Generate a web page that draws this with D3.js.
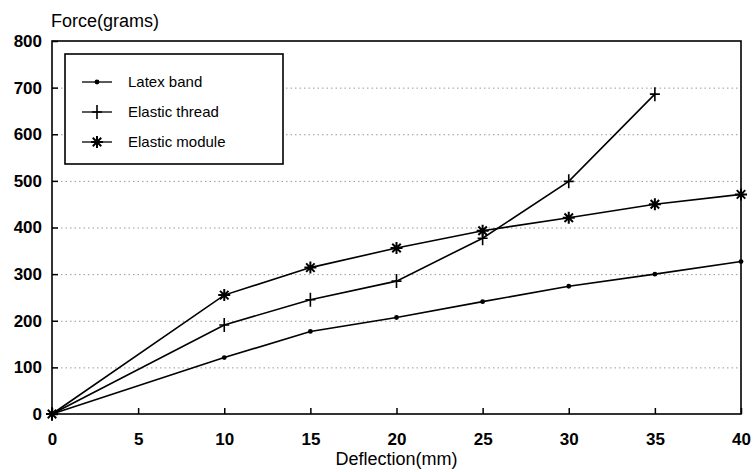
<!DOCTYPE html>
<html><head><meta charset="utf-8">
<script src="https://cdn.jsdelivr.net/npm/d3@7"></script>
<style>body{margin:0;background:#fff;} svg{display:block;font-family:"Liberation Sans",Arial,Helvetica,sans-serif;}</style>
</head><body>
<svg id="chart" width="756" height="472"></svg>
<script>
const deflection = [0, 10, 15, 20, 25, 30, 35, 40];
const latexBand = [0, 121, 177, 207, 241, 274, 300, 327];
const elasticThread = [0, 191, 245, 285, 377, 499, 686];
const elasticModule = [0, 255, 314, 356, 393, 421, 450, 471];
const xTicks = [0, 5, 10, 15, 20, 25, 30, 35, 40];
const yTicks = [0, 100, 200, 300, 400, 500, 600, 700, 800];
const seriesNames = ["Latex band", "Elastic thread", "Elastic module"];
const markerTypes = ["dot", "plus", "star"];

const svg = d3.select("#chart");
const x = d3.scaleLinear().domain([0, 40]).range([52, 741]);
const y = d3.scaleLinear().domain([0, 800]).range([414, 41]);

// grid (dotted)
const grid = svg.append("g").attr("transform", `translate(${x(0)},0)`)
  .call(d3.axisLeft(y).tickValues(yTicks.filter(v => v > 0 && v < 800)).tickSize(-(x(40) - x(0))).tickFormat(""));
grid.select(".domain").remove();
grid.selectAll("line").attr("stroke", "#999").attr("stroke-width", 1).attr("stroke-dasharray", "1.5,3");

// frame
svg.append("rect").attr("x", x(0)).attr("y", y(800)).attr("width", x(40) - x(0)).attr("height", y(0) - y(800))
  .attr("fill", "none").attr("stroke", "#000").attr("stroke-width", 1.6);

// axes
const xa = svg.append("g").attr("transform", `translate(0,${y(0)})`)
  .call(d3.axisBottom(x).tickValues(xTicks).tickSize(-6).tickSizeOuter(0).tickPadding(19));
xa.select(".domain").remove();
xa.selectAll("line").attr("stroke", "#000").attr("stroke-width", 1.5);
xa.selectAll("text").attr("font-size", 17).attr("font-weight", "bold").attr("fill", "#000").attr("font-family", "Liberation Sans, Arial, sans-serif");

const ya = svg.append("g").attr("transform", `translate(${x(0)},0)`)
  .call(d3.axisLeft(y).tickValues(yTicks).tickSize(-6).tickSizeOuter(0).tickPadding(10));
ya.select(".domain").remove();
ya.selectAll("line").attr("stroke", "#000").attr("stroke-width", 1.5);
ya.selectAll("text").attr("font-size", 17).attr("font-weight", "bold").attr("fill", "#000").attr("font-family", "Liberation Sans, Arial, sans-serif");

// titles
svg.append("text").attr("x", 51).attr("y", 27).attr("font-size", 18).attr("fill", "#000").text("Force(grams)");
svg.append("text").attr("x", (x(0) + x(40)) / 2).attr("y", 465).attr("text-anchor", "middle").attr("font-size", 18).attr("fill", "#000").text("Deflection(mm)");

function drawMarker(g, type, cx, cy) {
  if (type === "dot") {
    g.append("circle").attr("cx", cx).attr("cy", cy).attr("r", 2.4).attr("fill", "#000");
  } else if (type === "plus") {
    g.append("path").attr("d", `M${cx - 5},${cy}H${cx + 5}M${cx},${cy - 7}V${cy + 7}`).attr("stroke", "#000").attr("stroke-width", 1.6).attr("fill", "none");
  } else {
    const r = 6;
    let d = "";
    for (let k = 0; k < 4; k++) {
      const a = k * Math.PI / 4;
      d += `M${cx - r * Math.cos(a)},${cy - r * Math.sin(a)}L${cx + r * Math.cos(a)},${cy + r * Math.sin(a)}`;
    }
    g.append("path").attr("d", d).attr("stroke", "#000").attr("stroke-width", 2).attr("fill", "none");
  }
}

const seriesData = [latexBand, elasticThread, elasticModule];
const line = d3.line().x(d => x(d[0])).y(d => y(d[1]));
seriesData.forEach((vals, i) => {
  const pts = vals.map((v, j) => [deflection[j], v]);
  const g = svg.append("g");
  g.append("path").attr("d", line(pts)).attr("fill", "none").attr("stroke", "#000").attr("stroke-width", 1.6);
  pts.forEach(p => drawMarker(g, markerTypes[i], x(p[0]), y(p[1])));
});

// legend
const lg = svg.append("g");
lg.append("rect").attr("x", 65).attr("y", 54).attr("width", 218).attr("height", 110).attr("fill", "#fff").attr("stroke", "#000").attr("stroke-width", 1.6);
seriesNames.forEach((name, i) => {
  const cy = 82 + i * 30;
  lg.append("line").attr("x1", 82).attr("x2", 112).attr("y1", cy).attr("y2", cy).attr("stroke", "#000").attr("stroke-width", 1.3);
  drawMarker(lg, markerTypes[i], 97, cy);
  lg.append("text").attr("x", 128).attr("y", cy + 5).attr("font-size", 15).attr("fill", "#000").text(name);
});
</script>
</body></html>
